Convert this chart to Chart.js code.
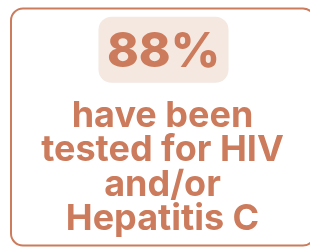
<!DOCTYPE html>
<html>
<head>
<meta charset="utf-8">
<script src="https://cdn.jsdelivr.net/npm/chart.js@4"></script>
<style>
    html, body { margin: 0; padding: 0; background: #ffffff; }
    #card { display: block; }
</style>
</head>
<body>
<canvas id="card" width="310" height="247"></canvas>
<script>
const statValues = [88];
const statUnits = ["%"];
const captionLines = ["have been", "tested for HIV", "and/or", "Hepatitis C"];

const accent = "#cc7c5c";
const pillColor = "#f4e8e1";

function roundRect(ctx, x, y, w, h, r) {
    ctx.beginPath();
    ctx.moveTo(x + r, y);
    ctx.arcTo(x + w, y, x + w, y + h, r);
    ctx.arcTo(x + w, y + h, x, y + h, r);
    ctx.arcTo(x, y + h, x, y, r);
    ctx.arcTo(x, y, x + w, y, r);
    ctx.closePath();
}

const statCard = {
    id: "statCard",
    afterDraw(chart) {
        const ctx = chart.ctx;
        const cx = 163.5;
        ctx.save();

        // card outline
        roundRect(ctx, 11, 8.5, 304, 237, 12);
        ctx.strokeStyle = accent;
        ctx.lineWidth = 2;
        ctx.stroke();

        // value pill
        roundRect(ctx, 98.5, 16.7, 130, 66, 13);
        ctx.fillStyle = pillColor;
        ctx.fill();

        ctx.fillStyle = accent;
        ctx.textAlign = "center";
        ctx.textBaseline = "alphabetic";
        ctx.font = "800 48px Inter";
        ctx.fillText(`${statValues[0]}${statUnits[0]}`, cx, 66.7);

        ctx.font = "bold 36px Inter";
        const baselines = [126.5, 160.5, 195.5, 230];
        captionLines.forEach((line, i) => {
            ctx.fillText(line, 162.5, baselines[i]);
        });
        ctx.restore();
    },
};

document.addEventListener("DOMContentLoaded", () => {
    new Chart(document.querySelector("#card"), {
        type: "bar",
        data: {
            labels: ["tested"],
            datasets: [{ label: "share", data: [], backgroundColor: accent }],
        },
        options: {
            responsive: false,
            animation: false,
            events: [],
            plugins: { legend: { display: false }, tooltip: { enabled: false } },
            scales: { x: { display: false }, y: { display: false } },
        },
        plugins: [statCard],
    });
});
</script>
</body>
</html>
